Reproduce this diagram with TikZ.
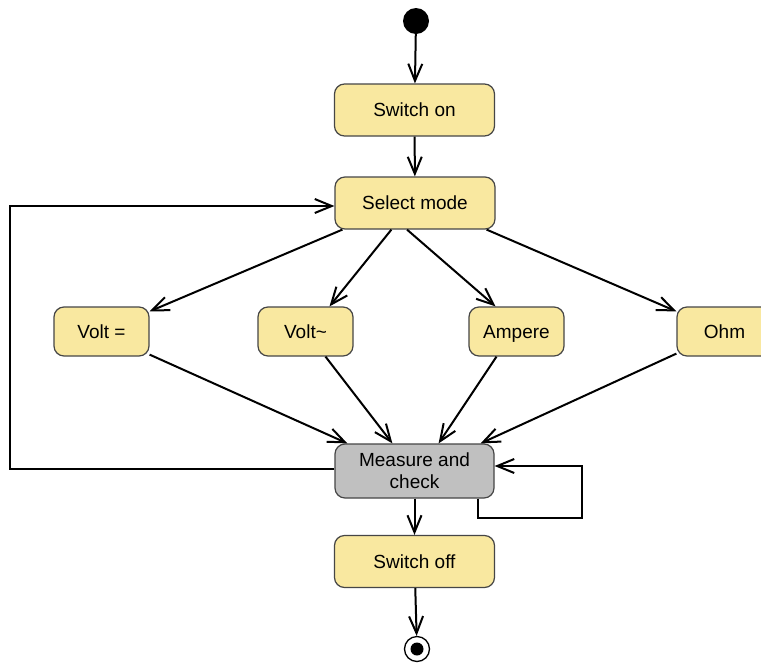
\documentclass[tikz,border=0pt]{standalone}
\usepackage{fontspec}
\setmainfont{Liberation Sans}
\usetikzlibrary{arrows.meta}
\definecolor{actfill}{RGB}{249,232,160}
\definecolor{measfill}{RGB}{192,192,192}
\definecolor{edgegray}{RGB}{70,70,70}
\tikzset{
  act/.style={draw=edgegray, line width=1.2pt, rounded corners=10pt, fill=actfill,
    minimum width=160pt, minimum height=52pt, inner sep=0pt, align=center,
    text height=15.5pt, text depth=2pt,
    font=\fontsize{19}{22}\selectfont},
  mode/.style={act, minimum width=95pt, minimum height=49pt},
  meas/.style={act, fill=measfill, minimum width=159pt, minimum height=54pt,
    text height=, text depth=},
  flow/.style={draw=black, line width=2pt,
    -{Straight Barb[length=17pt, width=14pt, line width=2pt]}},
  initial/.style={circle, fill=black, minimum size=26pt, inner sep=0pt},
  final/.style={circle, draw=black, line width=1.3pt, fill=white, minimum size=25pt, inner sep=0pt},
}
\begin{document}
\begin{tikzpicture}[x=1pt, y=-1pt]
  \clip (0,0) rectangle (761,662);
  \fill[white] (0,0) rectangle (761,662);

  % states
  \node[initial] (start) at (416,21) {};
  \node[act] (on)  at (414.5,110) {Switch on};
  \node[act] (sel) at (415,203) {Select mode};
  \node[mode] (vdc) at (101.5,331.5) {Volt =};
  \node[mode] (vac) at (305.5,331.5) {Volt\textasciitilde};
  \node[mode] (amp) at (516.5,331.5) {Ampere};
  \node[mode] (ohm) at (724.5,331.5) {Ohm};
  \node[meas] (meas) at (414.5,471) {Measure and\\check};
  \node[act] (off) at (414.5,561.5) {Switch off};
  \node[final] (stop) at (417,649) {};
  \fill[black] (stop.center) circle (6.5pt);

  % main sequence
  \draw[flow] (start) -- (on);
  \draw[flow] (on) -- (sel);
  \draw[flow] (meas) -- (off);
  \draw[flow] (off) -- (stop);

  % branching into the modes
  \draw[flow] ([xshift=8pt]sel.south west) -- ([yshift=-5pt]vdc.north east);
  \draw[flow] ([xshift=57pt]sel.south west) -- ([xshift=24pt]vac.north);
  \draw[flow] ([xshift=-8pt]sel.south) -- ([xshift=-21pt]amp.north);
  \draw[flow] ([xshift=-9pt]sel.south east) -- ([yshift=-5pt]ohm.north west);

  % joining into the measurement
  \draw[flow] ([yshift=2pt]vdc.south east) -- ([xshift=13pt]meas.north west);
  \draw[flow] ([xshift=20pt]vac.south) -- ([xshift=58pt]meas.north west);
  \draw[flow] ([xshift=-20pt]amp.south) -- ([xshift=-56pt]meas.north east);
  \draw[flow] ([yshift=3pt]ohm.south west) -- ([xshift=-14pt]meas.north east);

  % loops
  \draw[flow] ([yshift=2pt]meas.west) -- ++(-324,0) |- ([yshift=-3pt]sel.west);
  \draw[flow] ([xshift=-17pt]meas.south east) -- ++(0,19) -- ++(104,0) |- ([yshift=5pt]meas.east);
\end{tikzpicture}
\end{document}
